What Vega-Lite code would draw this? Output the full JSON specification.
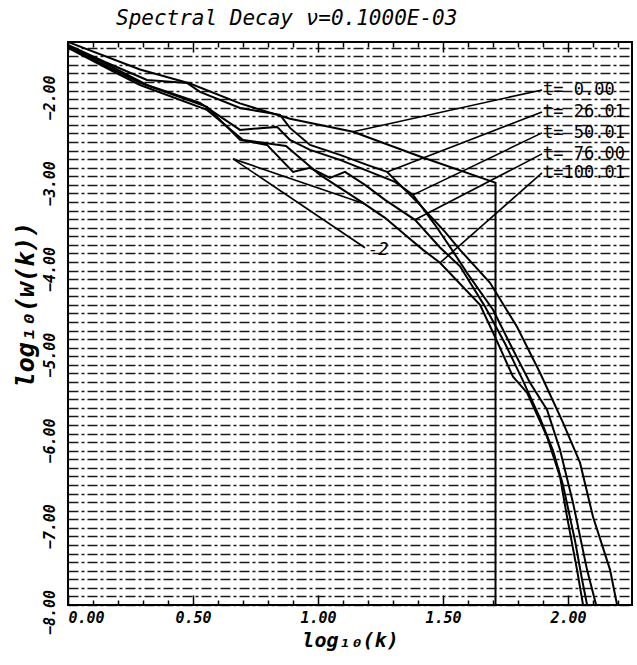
{
  "$schema": "https://vega.github.io/schema/vega-lite/v6.json",
  "width": 564,
  "height": 563,
  "autosize": {"type": "none"},
  "padding": {"left": 68, "top": 42, "right": 5, "bottom": 60},
  "background": "white",
  "title": {"text": "Spectral Decay  ν=0.1000E-03", "anchor": "start", "dx": 103, "offset": 12, "font": "DejaVu Sans Mono", "fontStyle": "italic", "fontWeight": "normal", "fontSize": 21, "color": "black"},
  "config": {
    "view": {"stroke": "black", "strokeWidth": 2},
    "axis": {"domain": false, "labelColor": "black", "titleColor": "black", "tickColor": "black"}
  },
  "datasets": {
    "curves": [
      {"t": "t0", "o": 1, "x": 0, "y": -1.434},
      {"t": "t0", "o": 2, "x": 0.288, "y": -1.755},
      {"t": "t0", "o": 3, "x": 0.488, "y": -1.918},
      {"t": "t0", "o": 4, "x": 0.688, "y": -2.15},
      {"t": "t0", "o": 5, "x": 0.888, "y": -2.33},
      {"t": "t0", "o": 6, "x": 1.14, "y": -2.48},
      {"t": "t0", "o": 7, "x": 1.408, "y": -2.77},
      {"t": "t0", "o": 8, "x": 1.70, "y": -3.065},
      {"t": "t0", "o": 9, "x": 1.71, "y": -3.075},
      {"t": "t0", "o": 10, "x": 1.71, "y": -8.4},

      {"t": "t26", "o": 1, "x": 0, "y": -1.468},
      {"t": "t26", "o": 2, "x": 0.148, "y": -1.667},
      {"t": "t26", "o": 3, "x": 0.316, "y": -1.876},
      {"t": "t26", "o": 4, "x": 0.476, "y": -1.911},
      {"t": "t26", "o": 5, "x": 0.528, "y": -2.016},
      {"t": "t26", "o": 6, "x": 0.688, "y": -2.203},
      {"t": "t26", "o": 7, "x": 0.848, "y": -2.284},
      {"t": "t26", "o": 8, "x": 0.888, "y": -2.436},
      {"t": "t26", "o": 9, "x": 0.968, "y": -2.634},
      {"t": "t26", "o": 10, "x": 1.088, "y": -2.751},
      {"t": "t26", "o": 11, "x": 1.196, "y": -2.867},
      {"t": "t26", "o": 12, "x": 1.276, "y": -2.949},
      {"t": "t26", "o": 13, "x": 1.408, "y": -3.333},
      {"t": "t26", "o": 14, "x": 1.508, "y": -3.648},
      {"t": "t26", "o": 15, "x": 1.568, "y": -3.858},
      {"t": "t26", "o": 16, "x": 1.688, "y": -4.242},
      {"t": "t26", "o": 17, "x": 1.796, "y": -4.755},
      {"t": "t26", "o": 18, "x": 1.888, "y": -5.291},
      {"t": "t26", "o": 19, "x": 1.98, "y": -5.874},
      {"t": "t26", "o": 20, "x": 2.048, "y": -6.34},
      {"t": "t26", "o": 21, "x": 2.10, "y": -6.97},
      {"t": "t26", "o": 22, "x": 2.168, "y": -7.587},
      {"t": "t26", "o": 23, "x": 2.196, "y": -7.995},
      {"t": "t26", "o": 24, "x": 2.228, "y": -8.403},

      {"t": "t50", "o": 1, "x": 0, "y": -1.48},
      {"t": "t50", "o": 2, "x": 0.168, "y": -1.713},
      {"t": "t50", "o": 3, "x": 0.316, "y": -1.935},
      {"t": "t50", "o": 4, "x": 0.528, "y": -2.145},
      {"t": "t50", "o": 5, "x": 0.688, "y": -2.459},
      {"t": "t50", "o": 6, "x": 0.836, "y": -2.424},
      {"t": "t50", "o": 7, "x": 0.888, "y": -2.576},
      {"t": "t50", "o": 8, "x": 0.968, "y": -2.692},
      {"t": "t50", "o": 9, "x": 1.088, "y": -2.809},
      {"t": "t50", "o": 10, "x": 1.208, "y": -2.949},
      {"t": "t50", "o": 11, "x": 1.308, "y": -3.065},
      {"t": "t50", "o": 12, "x": 1.38, "y": -3.217},
      {"t": "t50", "o": 13, "x": 1.468, "y": -3.566},
      {"t": "t50", "o": 14, "x": 1.536, "y": -3.858},
      {"t": "t50", "o": 15, "x": 1.596, "y": -4.126},
      {"t": "t50", "o": 16, "x": 1.70, "y": -4.557},
      {"t": "t50", "o": 17, "x": 1.78, "y": -5.023},
      {"t": "t50", "o": 18, "x": 1.848, "y": -5.408},
      {"t": "t50", "o": 19, "x": 1.916, "y": -5.723},
      {"t": "t50", "o": 20, "x": 1.968, "y": -6.189},
      {"t": "t50", "o": 21, "x": 2.02, "y": -6.807},
      {"t": "t50", "o": 22, "x": 2.076, "y": -7.587},
      {"t": "t50", "o": 23, "x": 2.112, "y": -7.995},
      {"t": "t50", "o": 24, "x": 2.148, "y": -8.403},

      {"t": "t76", "o": 1, "x": 0, "y": -1.492},
      {"t": "t76", "o": 2, "x": 0.168, "y": -1.737},
      {"t": "t76", "o": 3, "x": 0.288, "y": -1.911},
      {"t": "t76", "o": 4, "x": 0.556, "y": -2.191},
      {"t": "t76", "o": 5, "x": 0.688, "y": -2.576},
      {"t": "t76", "o": 6, "x": 0.796, "y": -2.634},
      {"t": "t76", "o": 7, "x": 0.90, "y": -2.949},
      {"t": "t76", "o": 8, "x": 0.968, "y": -2.902},
      {"t": "t76", "o": 9, "x": 1.048, "y": -3.019},
      {"t": "t76", "o": 10, "x": 1.108, "y": -2.949},
      {"t": "t76", "o": 11, "x": 1.188, "y": -3.1},
      {"t": "t76", "o": 12, "x": 1.268, "y": -3.275},
      {"t": "t76", "o": 13, "x": 1.388, "y": -3.508},
      {"t": "t76", "o": 14, "x": 1.488, "y": -3.83},
      {"t": "t76", "o": 15, "x": 1.568, "y": -4.05},
      {"t": "t76", "o": 16, "x": 1.668, "y": -4.52},
      {"t": "t76", "o": 17, "x": 1.748, "y": -4.95},
      {"t": "t76", "o": 18, "x": 1.816, "y": -5.36},
      {"t": "t76", "o": 19, "x": 1.888, "y": -5.82},
      {"t": "t76", "o": 20, "x": 1.94, "y": -6.2},
      {"t": "t76", "o": 21, "x": 1.98, "y": -6.6},
      {"t": "t76", "o": 22, "x": 2.028, "y": -7.25},
      {"t": "t76", "o": 23, "x": 2.056, "y": -7.7},
      {"t": "t76", "o": 24, "x": 2.09, "y": -8.2},

      {"t": "t100", "o": 1, "x": 0, "y": -1.503},
      {"t": "t100", "o": 2, "x": 0.168, "y": -1.76},
      {"t": "t100", "o": 3, "x": 0.288, "y": -1.935},
      {"t": "t100", "o": 4, "x": 0.556, "y": -2.226},
      {"t": "t100", "o": 5, "x": 0.70, "y": -2.576},
      {"t": "t100", "o": 6, "x": 0.872, "y": -2.646},
      {"t": "t100", "o": 7, "x": 1.008, "y": -2.984},
      {"t": "t100", "o": 8, "x": 1.18, "y": -3.31},
      {"t": "t100", "o": 9, "x": 1.268, "y": -3.485},
      {"t": "t100", "o": 10, "x": 1.348, "y": -3.683},
      {"t": "t100", "o": 11, "x": 1.42, "y": -3.858},
      {"t": "t100", "o": 12, "x": 1.488, "y": -4.009},
      {"t": "t100", "o": 13, "x": 1.648, "y": -4.499},
      {"t": "t100", "o": 14, "x": 1.708, "y": -4.872},
      {"t": "t100", "o": 15, "x": 1.78, "y": -5.338},
      {"t": "t100", "o": 16, "x": 1.836, "y": -5.524},
      {"t": "t100", "o": 17, "x": 1.916, "y": -6.037},
      {"t": "t100", "o": 18, "x": 1.968, "y": -6.503},
      {"t": "t100", "o": 19, "x": 1.996, "y": -6.97},
      {"t": "t100", "o": 20, "x": 2.036, "y": -7.587},
      {"t": "t100", "o": 21, "x": 2.06, "y": -7.995},
      {"t": "t100", "o": 22, "x": 2.088, "y": -8.403}
    ],
    "segments": [
      {"kind": "leader", "x1": 1.896, "y1": -1.993, "x2": 1.14, "y2": -2.48},
      {"kind": "leader", "x1": 1.896, "y1": -2.249, "x2": 1.276, "y2": -2.949},
      {"kind": "leader", "x1": 1.896, "y1": -2.494, "x2": 1.38, "y2": -3.217},
      {"kind": "leader", "x1": 1.896, "y1": -2.739, "x2": 1.388, "y2": -3.508},
      {"kind": "leader", "x1": 1.896, "y1": -2.96, "x2": 1.488, "y2": -4.009},
      {"kind": "slope", "x1": 0.66, "y1": -2.797, "x2": 1.188, "y2": -3.834},
      {"kind": "slope", "x1": 0.66, "y1": -2.797, "x2": 1.188, "y2": -3.322}
    ],
    "labels": [
      {"text": "t=  0.00", "x": 1.9, "y": -1.993},
      {"text": "t= 26.01", "x": 1.9, "y": -2.249},
      {"text": "t= 50.01", "x": 1.9, "y": -2.494},
      {"text": "t= 76.00", "x": 1.9, "y": -2.739},
      {"text": "t=100.01", "x": 1.9, "y": -2.96}
    ],
    "notes": [
      {"text": "-2", "x": 1.2, "y": -3.858}
    ]
  },
  "resolve": {"axis": {"x": "independent", "y": "independent"}},
  "layer": [
    {
      "data": {"name": "curves"},
      "mark": {"type": "line", "color": "black", "strokeWidth": 2, "clip": true, "interpolate": "linear"},
      "encoding": {
        "x": {
          "field": "x", "type": "quantitative",
          "scale": {"domain": [0, 2.256], "nice": false, "zero": false},
          "axis": {
            "orient": "bottom",
            "values": [0, 0.1, 0.2, 0.3, 0.4, 0.5, 0.6, 0.7, 0.8, 0.9, 1.0, 1.1, 1.2, 1.3, 1.4, 1.5, 1.6, 1.7, 1.8, 1.9, 2.0, 2.1, 2.2],
            "labelExpr": "abs(datum.value*2 - round(datum.value*2)) < 0.001 ? format(datum.value, '.2f') : ''",
            "grid": false,
            "tickSize": {"condition": {"test": "abs(datum.value*2 - round(datum.value*2)) < 0.001", "value": -10}, "value": -5},
            "tickWidth": 1.5,
            "labelPadding": 15,
            "labelFont": "DejaVu Sans Mono", "labelFontStyle": "italic", "labelFontWeight": "bold", "labelFontSize": 15,
            "title": "log₁₀(k)", "titleFont": "DejaVu Sans Mono", "titleFontStyle": "italic", "titleFontWeight": "bold", "titleFontSize": 20, "titlePadding": 5
          }
        },
        "y": {
          "field": "y", "type": "quantitative",
          "scale": {"domain": [-8.0, -1.434], "nice": false, "zero": false},
          "axis": {
            "orient": "left",
            "values": [-8, -7.9, -7.8, -7.7, -7.6, -7.5, -7.4, -7.3, -7.2, -7.1, -7, -6.9, -6.8, -6.7, -6.6, -6.5, -6.4, -6.3, -6.2, -6.1, -6, -5.9, -5.8, -5.7, -5.6, -5.5, -5.4, -5.3, -5.2, -5.1, -5, -4.9, -4.8, -4.7, -4.6, -4.5, -4.4, -4.3, -4.2, -4.1, -4, -3.9, -3.8, -3.7, -3.6, -3.5, -3.4, -3.3, -3.2, -3.1, -3, -2.9, -2.8, -2.7, -2.6, -2.5, -2.4, -2.3, -2.2, -2.1, -2, -1.9, -1.8, -1.7, -1.6, -1.5],
            "labelExpr": "abs(datum.value - round(datum.value)) < 0.001 ? format(datum.value, '.2f') : ''",
            "grid": true, "gridColor": "black", "gridDash": [10, 3, 3, 3], "gridWidth": 1.4, "gridOpacity": 0.9,
            "ticks": false,
            "labelAngle": -90, "labelAlign": "center", "labelBaseline": "bottom", "labelPadding": 11, "labelOffset": 7,
            "labelFont": "DejaVu Sans Mono", "labelFontStyle": "italic", "labelFontWeight": "bold", "labelFontSize": 15,
            "title": "log₁₀(w(k))", "titleFont": "DejaVu Sans Mono", "titleFontStyle": "italic", "titleFontWeight": "bold", "titleFontSize": 25, "titlePadding": 4, "titleY": 262
          }
        },
        "detail": {"field": "t", "type": "nominal"},
        "order": {"field": "o", "type": "quantitative"}
      }
    },
    {
      "data": {"name": "segments"},
      "mark": {"type": "rule", "color": "black", "strokeWidth": 1.6, "clip": true},
      "encoding": {
        "x": {"field": "x1", "type": "quantitative",
          "axis": {"orient": "top", "values": [0, 0.1, 0.2, 0.3, 0.4, 0.5, 0.6, 0.7, 0.8, 0.9, 1.0, 1.1, 1.2, 1.3, 1.4, 1.5, 1.6, 1.7, 1.8, 1.9, 2.0, 2.1, 2.2], "labels": false, "grid": false, "title": null, "tickSize": {"condition": {"test": "abs(datum.value*2 - round(datum.value*2)) < 0.001", "value": -10}, "value": -5}, "tickWidth": 1.5}},
        "y": {"field": "y1", "type": "quantitative", "axis": null},
        "x2": {"field": "x2"},
        "y2": {"field": "y2"}
      }
    },
    {
      "data": {"name": "labels"},
      "mark": {"type": "text", "align": "left", "baseline": "middle", "font": "DejaVu Sans Mono", "fontSize": 17, "color": "black"},
      "encoding": {
        "x": {"field": "x", "type": "quantitative", "axis": null},
        "y": {"field": "y", "type": "quantitative", "axis": null},
        "text": {"field": "text"}
      }
    },
    {
      "data": {"name": "notes"},
      "mark": {"type": "text", "align": "left", "baseline": "middle", "font": "DejaVu Sans Mono", "fontStyle": "italic", "fontSize": 17, "color": "black"},
      "encoding": {
        "x": {"field": "x", "type": "quantitative", "axis": null},
        "y": {"field": "y", "type": "quantitative", "axis": null},
        "text": {"field": "text"}
      }
    }
  ]
}
